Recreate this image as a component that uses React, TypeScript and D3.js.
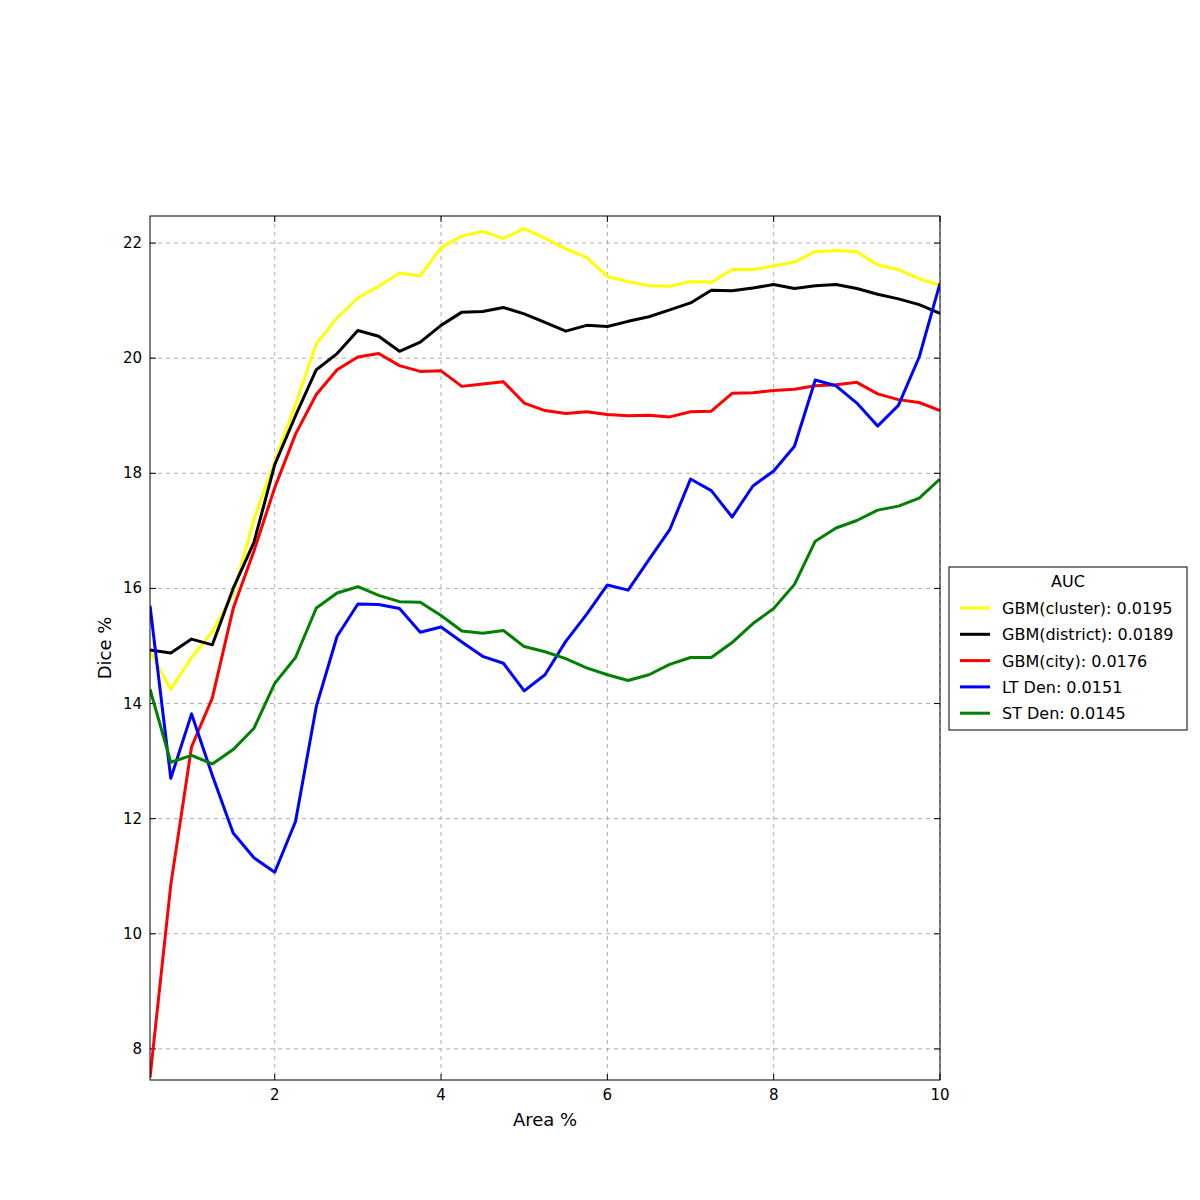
import React from "react";
import * as d3 from "d3";

const xs = d3.range(0, 39).map((i) => 0.5 + i * 0.25);
const cluster = [14.9,14.25,14.8,15.25,15.9,17.2,18.2,19.2,20.25,20.7,21.05,21.25,21.48,21.43,21.92,22.12,22.2,22.08,22.25,22.08,21.9,21.75,21.42,21.33,21.26,21.25,21.33,21.32,21.54,21.54,21.6,21.67,21.85,21.87,21.85,21.62,21.54,21.38,21.27];
const district = [14.93,14.88,15.12,15.02,16.0,16.8,18.15,19.0,19.8,20.08,20.48,20.38,20.12,20.28,20.57,20.8,20.81,20.88,20.77,20.62,20.47,20.57,20.55,20.64,20.72,20.84,20.96,21.18,21.17,21.22,21.28,21.21,21.26,21.28,21.21,21.11,21.03,20.93,20.78];
const city = [7.5,10.85,13.25,14.1,15.65,16.65,17.75,18.68,19.37,19.8,20.02,20.08,19.87,19.77,19.78,19.51,19.55,19.59,19.22,19.09,19.04,19.07,19.02,19.0,19.01,18.98,19.07,19.08,19.39,19.4,19.44,19.46,19.52,19.54,19.58,19.38,19.28,19.23,19.09];
const ltDen = [15.7,12.7,13.82,12.75,11.75,11.32,11.07,11.95,13.95,15.17,15.73,15.72,15.65,15.24,15.33,15.07,14.82,14.7,14.22,14.5,15.08,15.55,16.06,15.97,16.5,17.02,17.9,17.7,17.24,17.78,18.04,18.47,19.62,19.52,19.22,18.82,19.18,20.02,21.3];
const stDen = [14.25,12.98,13.1,12.95,13.2,13.57,14.35,14.8,15.66,15.92,16.03,15.88,15.77,15.76,15.53,15.26,15.22,15.27,14.99,14.9,14.78,14.62,14.5,14.4,14.5,14.68,14.8,14.8,15.06,15.39,15.65,16.07,16.82,17.05,17.18,17.36,17.43,17.57,17.9];

const series = [
  { name: "GBM(cluster): 0.0195", color: "#ffff00", values: cluster },
  { name: "GBM(district): 0.0189", color: "#000000", values: district },
  { name: "GBM(city): 0.0176", color: "#ff0000", values: city },
  { name: "LT Den: 0.0151", color: "#0000ff", values: ltDen },
  { name: "ST Den: 0.0145", color: "#008000", values: stDen },
];
const xTicks = [2, 4, 6, 8, 10];
const yTicks = [8, 10, 12, 14, 16, 18, 20, 22];

export default function App() {
  const L = 150, R = 940, T = 216, B = 1080;
  const x = d3.scaleLinear().domain([0.5, 10]).range([L, R]);
  const y = d3.scaleLinear().domain([7.46, 22.47]).range([B, T]);
  const line = d3.line<number>().x((_, i) => x(xs[i])).y((d) => y(d));
  const font = "DejaVu Sans, sans-serif";
  return (
    <svg width={1200} height={1200} style={{ position: "absolute", left: 0, top: 0 }} fontFamily={font}>
      <rect width={1200} height={1200} fill="#fff" />
      <defs><clipPath id="c"><rect x={L} y={T} width={R - L} height={B - T} /></clipPath></defs>
      {xTicks.map((t) => (
        <g key={"x" + t}>
          <line x1={x(t)} x2={x(t)} y1={T} y2={B} stroke="#999" strokeDasharray="4,4" strokeWidth={0.8} />
          <line x1={x(t)} x2={x(t)} y1={B} y2={B - 6} stroke="#000" />
          <line x1={x(t)} x2={x(t)} y1={T} y2={T + 6} stroke="#000" />
          <text x={x(t)} y={B + 20} fontSize={15} textAnchor="middle">{t}</text>
        </g>
      ))}
      {yTicks.map((t) => (
        <g key={"y" + t}>
          <line x1={L} x2={R} y1={y(t)} y2={y(t)} stroke="#999" strokeDasharray="4,4" strokeWidth={0.8} />
          <line x1={L} x2={L + 6} y1={y(t)} y2={y(t)} stroke="#000" />
          <line x1={R} x2={R - 6} y1={y(t)} y2={y(t)} stroke="#000" />
          <text x={L - 8} y={y(t) + 5} fontSize={15} textAnchor="end">{t}</text>
        </g>
      ))}
      <g clipPath="url(#c)">
        {series.map((s) => (
          <path key={s.name} d={line(s.values) || ""} fill="none" stroke={s.color} strokeWidth={3} strokeLinejoin="round" />
        ))}
      </g>
      <rect x={L} y={T} width={R - L} height={B - T} fill="none" stroke="#000" strokeWidth={1} />
      <text x={(L + R) / 2} y={1126} fontSize={18} textAnchor="middle">Area %</text>
      <text transform={`translate(111,${(T + B) / 2}) rotate(-90)`} fontSize={18} textAnchor="middle">Dice %</text>
      <rect x={949} y={567} width={238} height={163} fill="#fff" stroke="#000" />
      <text x={1068} y={587} fontSize={16} textAnchor="middle">AUC</text>
      {series.map((s, i) => (
        <g key={"l" + s.name}>
          <line x1={960} x2={990} y1={608 + i * 26.3} y2={608 + i * 26.3} stroke={s.color} strokeWidth={3} />
          <text x={1002} y={614 + i * 26.3} fontSize={16}>{s.name}</text>
        </g>
      ))}
    </svg>
  );
}
